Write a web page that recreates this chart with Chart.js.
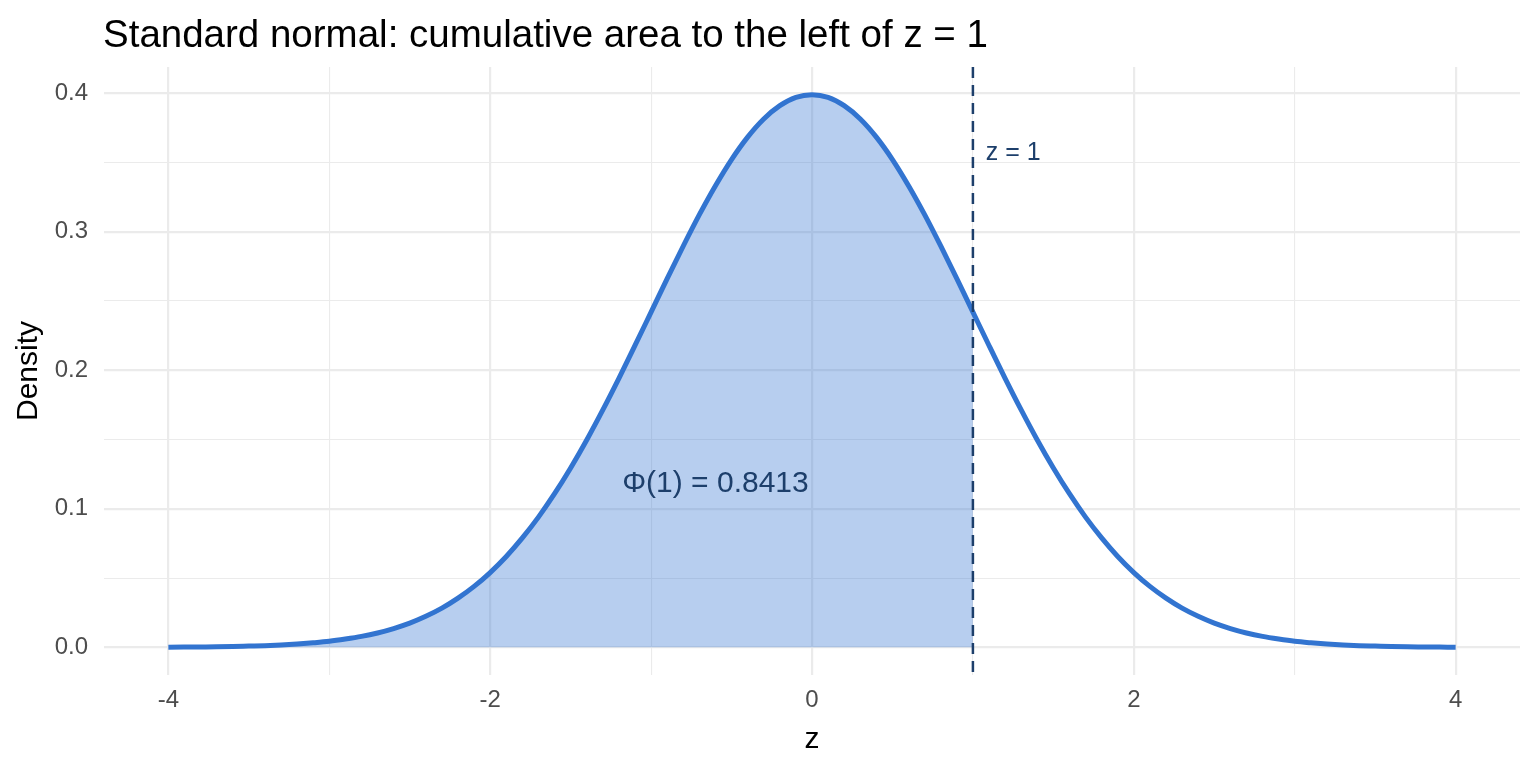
<!DOCTYPE html>
<html>
<head>
<meta charset="utf-8">
<script src="https://cdn.jsdelivr.net/npm/chart.js@4/dist/chart.umd.min.js"></script>
<style>
  html, body { margin: 0; padding: 0; background: #ffffff; }
  #wrap { width: 1536px; height: 768px; }
</style>
</head>
<body>
<div id="wrap"><canvas id="normChart" width="1536" height="768"></canvas></div>
<script>
// z grid and the density
const zValues = [
  -4.0, -3.9, -3.8, -3.7, -3.6, -3.5, -3.4, -3.3, -3.2, -3.1,
  -3.0, -2.9, -2.8, -2.7, -2.6, -2.5, -2.4, -2.3, -2.2, -2.1,
  -2.0, -1.9, -1.8, -1.7, -1.6, -1.5, -1.4, -1.3, -1.2, -1.1,
  -1.0, -0.9, -0.8, -0.7, -0.6, -0.5, -0.4, -0.3, -0.2, -0.1,
   0.0,
   0.1,  0.2,  0.3,  0.4,  0.5,  0.6,  0.7,  0.8,  0.9,  1.0,
   1.1,  1.2,  1.3,  1.4,  1.5,  1.6,  1.7,  1.8,  1.9,  2.0,
   2.1,  2.2,  2.3,  2.4,  2.5,  2.6,  2.7,  2.8,  2.9,  3.0,
   3.1,  3.2,  3.3,  3.4,  3.5,  3.6,  3.7,  3.8,  3.9,  4.0
];
const density = [
  0.0001, 0.0002, 0.0003, 0.0004, 0.0006, 0.0009, 0.0012, 0.0017, 0.0024, 0.0033,
  0.0044, 0.0060, 0.0079, 0.0104, 0.0136, 0.0175, 0.0224, 0.0283, 0.0355, 0.0440,
  0.0540, 0.0656, 0.0790, 0.0940, 0.1109, 0.1295, 0.1497, 0.1714, 0.1942, 0.2179,
  0.2420, 0.2661, 0.2897, 0.3123, 0.3332, 0.3521, 0.3683, 0.3814, 0.3910, 0.3970,
  0.3989,
  0.3970, 0.3910, 0.3814, 0.3683, 0.3521, 0.3332, 0.3123, 0.2897, 0.2661, 0.2420,
  0.2179, 0.1942, 0.1714, 0.1497, 0.1295, 0.1109, 0.0940, 0.0790, 0.0656, 0.0540,
  0.0440, 0.0355, 0.0283, 0.0224, 0.0175, 0.0136, 0.0104, 0.0079, 0.0060, 0.0044,
  0.0033, 0.0024, 0.0017, 0.0012, 0.0009, 0.0006, 0.0004, 0.0003, 0.0002, 0.0001
];
const zCut = 1;
const phiText = 'Φ(1) = 0.8413';
const cutText = 'z = 1';

// axis ticks
const xMajor = [-4, -2, 0, 2, 4];
const xMinor = [-3, -1, 1, 3];
const yMajor = [0, 0.1, 0.2, 0.3, 0.4];
const yMinor = [0.05, 0.15, 0.25, 0.35];

const curvePts = zValues.map((z, i) => ({ x: z, y: density[i] }));
const shadePts = curvePts.filter(p => p.x <= zCut + 1e-9);

const isMajor = (list, v) => list.some(m => Math.abs(m - v) < 1e-9);
const gridColor = '#ebebeb';
const navy = '#1d3f6b';

function tickList(major, minor) {
  return [...major, ...minor].sort((a, b) => a - b).map(v => ({ value: v }));
}

const decor = {
  id: 'decor',
  afterDatasetsDraw(chart) {
    const { ctx, chartArea, scales } = chart;
    const xs = scales.x, ys = scales.y;
    ctx.save();
    // dashed reference line at z = 1
    const px = xs.getPixelForValue(zCut);
    ctx.strokeStyle = navy;
    ctx.lineWidth = 2.5;
    ctx.setLineDash([11, 7]);
    ctx.beginPath();
    ctx.moveTo(px, chartArea.top);
    ctx.lineTo(px, chartArea.bottom);
    ctx.stroke();
    ctx.setLineDash([]);

    ctx.fillStyle = navy;
    ctx.textBaseline = 'middle';
    ctx.font = '25px "Liberation Sans", Arial, sans-serif';
    ctx.textAlign = 'left';
    ctx.fillText(cutText, xs.getPixelForValue(1.08), ys.getPixelForValue(0.357));

    ctx.font = '30px "Liberation Sans", Arial, sans-serif';
    ctx.textAlign = 'center';
    ctx.fillText(phiText, xs.getPixelForValue(-0.6), ys.getPixelForValue(0.118));
    ctx.restore();
  },
  afterDraw(chart) {
    const { ctx } = chart;
    ctx.save();
    ctx.fillStyle = '#000000';
    ctx.font = '38.5px "Liberation Sans", Arial, sans-serif';
    ctx.textAlign = 'left';
    ctx.textBaseline = 'alphabetic';
    ctx.fillText('Standard normal: cumulative area to the left of z = 1', 103, 47);
    ctx.restore();
  }
};

new Chart(document.getElementById('normChart'), {
  type: 'line',
  data: {
    datasets: [
      {
        label: 'curve',
        data: curvePts,
        borderColor: '#3274d0',
        borderWidth: 5,
        pointRadius: 0,
        cubicInterpolationMode: 'monotone',
        fill: false,
        order: 0
      },
      {
        label: 'area',
        data: shadePts,
        borderWidth: 0,
        borderColor: 'rgba(0,0,0,0)',
        backgroundColor: 'rgba(50, 116, 208, 0.35)',
        pointRadius: 0,
        cubicInterpolationMode: 'monotone',
        fill: 'origin',
        order: 1
      }
    ]
  },
  options: {
    responsive: false,
    animation: false,
    layout: { padding: { left: 0, right: 16, top: 67, bottom: 0 } },
    plugins: {
      legend: { display: false },
      tooltip: { enabled: false },
      title: { display: false }
    },
    scales: {
      x: {
        type: 'linear',
        min: -4.4,
        max: 4.4,
        afterBuildTicks: s => { s.ticks = tickList(xMajor, xMinor); },
        afterFit: s => { s.height = 93; },
        border: { display: false },
        grid: {
          drawTicks: false,
          color: gridColor,
          lineWidth: c => (c.tick && isMajor(xMajor, c.tick.value)) ? 2.2 : 1.1
        },
        ticks: {
          autoSkip: false,
          maxRotation: 0,
          padding: 11,
          color: '#4d4d4d',
          font: { family: '"Liberation Sans", Arial, sans-serif', size: 24 },
          callback: v => isMajor(xMajor, v) ? String(v) : ''
        },
        title: {
          display: true,
          text: 'z',
          color: '#000000',
          font: { family: '"Liberation Sans", Arial, sans-serif', size: 30 },
          padding: { top: 0, bottom: 10 }
        }
      },
      y: {
        type: 'linear',
        min: -0.019947,
        max: 0.418889,
        afterBuildTicks: s => { s.ticks = tickList(yMajor, yMinor); },
        afterFit: s => { s.width = 104; },
        border: { display: false },
        grid: {
          drawTicks: false,
          color: gridColor,
          lineWidth: c => (c.tick && isMajor(yMajor, c.tick.value)) ? 2.2 : 1.1
        },
        ticks: {
          padding: 16,
          color: '#4d4d4d',
          font: { family: '"Liberation Sans", Arial, sans-serif', size: 24 },
          callback: v => isMajor(yMajor, v) ? v.toFixed(1) : ''
        },
        title: {
          display: true,
          text: 'Density',
          color: '#000000',
          font: { family: '"Liberation Sans", Arial, sans-serif', size: 30 },
          padding: { top: 11, bottom: 0 }
        }
      }
    }
  },
  plugins: [decor]
});
</script>
</body>
</html>
